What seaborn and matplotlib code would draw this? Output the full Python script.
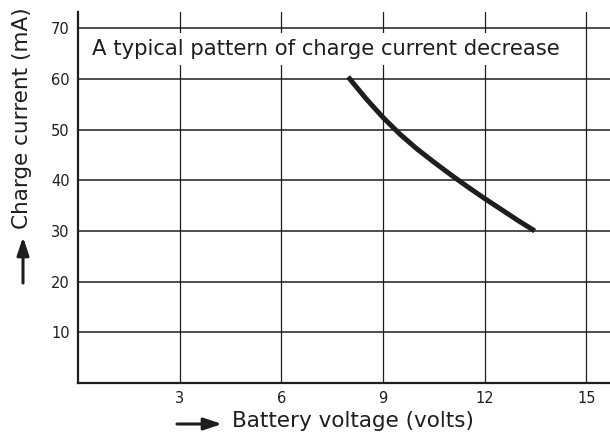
import matplotlib
matplotlib.use("Agg")
import matplotlib.pyplot as plt
import seaborn as sns
import pandas as pd

# Data
voltage = [7.97, 8.5, 9.0, 9.5, 10.0, 10.5, 11.0, 11.5, 12.0, 12.5, 13.0, 13.48]
current = [60.4, 56.1, 52.4, 49.1, 46.2, 43.6, 41.1, 38.7, 36.4, 34.2, 32.0, 30.0]
x_ticks = [3, 6, 9, 12, 15]
y_ticks = [10, 20, 30, 40, 50, 60, 70]
caption = "A typical pattern of charge current decrease"
x_label = "Battery voltage (volts)"
y_label = "Charge current (mA)"

sns.set_style("white")
plt.rcParams['font.family'] = ['DejaVu Sans']

df = pd.DataFrame({"voltage": voltage, "current": current})

fig = plt.figure(figsize=(6.10, 4.32), dpi=100)
ax = fig.add_axes([78/610, 1-383/432, 1-78/610, (383-12)/432])

ink = "#1e1e1e"
for xv in x_ticks:
    ax.axvline(xv, color=ink, lw=0.9, zorder=1)
for yv in y_ticks:
    ax.axhline(yv, color=ink, lw=1.1, zorder=1)

sns.lineplot(data=df, x="voltage", y="current", ax=ax, color=ink, lw=3.6,
             zorder=3, solid_capstyle="butt", solid_joinstyle="round")

ax.set_xlim(0, 15.7)
ax.set_ylim(0, 73.2)
ax.set_xticks(x_ticks)
ax.set_yticks(y_ticks)
ax.set_xticklabels([str(v) for v in x_ticks], fontsize=10.5, color=ink)
ax.set_yticklabels([str(v) for v in y_ticks], fontsize=10.5, color=ink)
ax.tick_params(axis="x", length=0, pad=6)
ax.tick_params(axis="y", length=3, width=1.1, color=ink, pad=3, direction="out")

for s in ["top", "right"]:
    ax.spines[s].set_visible(False)
for s in ["left", "bottom"]:
    ax.spines[s].set_color(ink)
    ax.spines[s].set_linewidth(1.6)

ax.text(0.41, 65.9, caption, fontsize=15.2, color=ink, va="center", ha="left",
        zorder=4, bbox=dict(facecolor="white", edgecolor="none", pad=4.5))

ax.set_xlabel("")
ax.set_ylabel("")

# axis titles with long arrows as in the original
fig.text(232/610, 1-421/432, x_label, fontsize=15.5, color=ink, ha="left", va="center")
fig.text(22/610, 1-118/432, y_label, fontsize=15.5, color=ink, ha="center", va="center",
         rotation=90)
arrow_style = dict(arrowstyle="-|>,head_length=0.9,head_width=0.3", color=ink, lw=2.2,
                   shrinkA=0, shrinkB=0)
fig.add_artist(matplotlib.patches.FancyArrowPatch(
    (177/610, 1-424/432), (222/610, 1-424/432), transform=fig.transFigure,
    mutation_scale=12, **arrow_style))
fig.add_artist(matplotlib.patches.FancyArrowPatch(
    (23/610, 1-283/432), (23/610, 1-237/432), transform=fig.transFigure,
    mutation_scale=12, **arrow_style))

fig.savefig("out.png", dpi=100)
